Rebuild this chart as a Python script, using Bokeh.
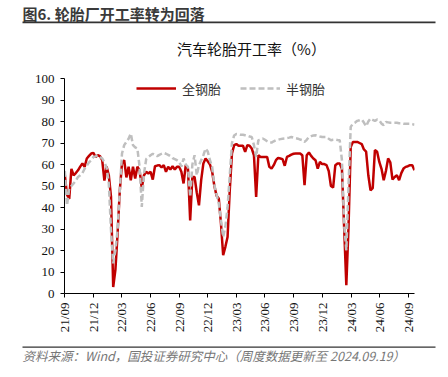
from datetime import datetime, timedelta
from math import pi
from bokeh.plotting import figure
from bokeh.layouts import column
from bokeh.models import (Range1d, MonthsTicker, DatetimeTickFormatter, Label,
                          BoxAnnotation, Legend, LegendItem, FixedTicker)
from bokeh.embed import file_html
from bokeh.resources import INLINE

# ---- data (weekly, weeks counted from 2021-09-02) ----
START = datetime(2021, 9, 2)

weeks_all_steel = list(range(0, 160))
all_steel = [55, 46, 44, 58, 55, 56, 57.3, 59, 60.5, 58.9,
             62.8, 64, 65.1, 65.4, 63.5, 64.3, 63.9, 62, 52.5, 59,
             55, 45, 3, 11, 28, 48, 60.5, 62, 54, 59,
             52.7, 59, 53.5, 59, 57.3, 49, 55, 56.6, 55.8, 56.6,
             53, 59.2, 59.5, 59.7, 58.6, 59.7, 56.6, 58.9, 57.7, 59.2,
             57.7, 58.9, 58.9, 56.6, 51.2, 59.7, 58, 34, 54.2, 54.2,
             47, 41, 52.7, 60.5, 62.8, 61.5, 60, 56.6, 50, 45.5,
             44.2, 32.6, 17.8, 21.7, 26.3, 48, 65.1, 69, 69.5, 68.7,
             68.7, 68.7, 65.9, 69, 68.7, 67.4, 64.3, 44.9, 64.3, 63.5,
             63.5, 63.5, 63.5, 58.9, 58.1, 59.7, 62, 63.1, 62.8, 62.5,
             59.4, 63.5, 64, 64.6, 65, 65.1, 65.1, 65.1, 64.3, 50.4,
             64.3, 65.6, 64, 62.8, 62, 58.1, 61.2, 60.2, 60.2, 59.7,
             57, 50, 49.3, 59.7, 60.5, 60.5, 58, 31, 3.9, 31,
             68.2, 70.5, 70.5, 70.5, 70, 69.5, 67, 66, 55, 48,
             49, 66.7, 65.9, 61.2, 58, 52.7, 57, 62.8, 61, 53,
             54.2, 55, 52.7, 56, 58.1, 58.9, 59.2, 59.7, 59.7, 57.3]

weeks_semi_steel = list(range(0, 160))
semi_steel = [57, 41, 48.8, 50, 51.2, 52.5, 54.2, 55, 56, 58,
              59.5, 61, 62, 63.5, 63.8, 64.3, 63.5, 62.8, 61, 58.5,
              51.2, 29.4, 14, 20, 30, 48, 65.1, 69, 70.5, 72,
              74.4, 69, 68, 67.4, 58.9, 40.3, 55.8, 62.5, 63.5, 64.3,
              65, 64.5, 63.9, 64.5, 65, 65.4, 65, 64.5, 63.9, 63,
              62.5, 62, 61.2, 59, 62.8, 60, 58.9, 44.9, 60, 64.3,
              55, 59.7, 62, 64.3, 67.4, 66, 62, 58.9, 50.4, 46,
              41.9, 34.1, 26.3, 31, 40, 55, 70, 73.5, 74.2, 74,
              73.8, 73.8, 73.6, 73.4, 73, 72.8, 69, 63.5, 71.3, 71.5,
              72.1, 71.5, 70.8, 70.2, 70.2, 70.8, 71.3, 71.5, 71.8, 72,
              72.1, 72.3, 72.5, 72.8, 72.5, 72.2, 72, 71.6, 71.3, 70.5,
              71.5, 72.8, 73.2, 73.5, 73.6, 73.3, 73, 72.8, 72.8, 72.8,
              72, 71.3, 71.5, 71.6, 71.4, 71.3, 62, 32, 20.1, 50,
              77.5, 79, 79.5, 80.3, 80.6, 80.9, 79.5, 77.8, 80, 81.4,
              80.8, 80.3, 80.9, 80.6, 79, 78.3, 79.8, 79.6, 79.4, 79.4,
              79.4, 79.4, 79.2, 79.2, 79, 79, 79, 79, 78.8, 78.5]

series_names = ["全钢胎", "半钢胎"]
y_ticks = [0, 10, 20, 30, 40, 50, 60, 70, 80, 90, 100]
fig_title = "图6. 轮胎厂开工率转为回落"
chart_title = "汽车轮胎开工率（%）"
source_note = "资料来源：Wind，国投证券研究中心（周度数据更新至 2024.09.19）"

dates_all = [START + timedelta(weeks=w) for w in weeks_all_steel]
dates_semi = [START + timedelta(weeks=w) for w in weeks_semi_steel]

W = 448
HEAD_H, MAIN_H, FOOT_H = 64, 280, 33
CJK = "Noto Sans CJK SC"
serif = "Liberation Serif"


def blank(height, y0):
    f = figure(width=W, height=height, x_range=Range1d(0, W),
               y_range=Range1d(y0 + height, y0), output_backend="svg",
               toolbar_location=None, min_border=0,
               x_axis_location=None, y_axis_location=None)
    f.frame_align = False
    f.outline_line_color = None
    f.grid.visible = False
    f.border_fill_color = "white"
    f.background_fill_color = "white"
    return f


# ---- header ----
head = blank(HEAD_H, 0)
head.add_layout(Label(x=22, y=12.5, text=fig_title, text_font=CJK,
                      text_font_size="15px", text_font_style="bold",
                      text_color="#3a3a3a", text_baseline="middle"))
head.add_layout(BoxAnnotation(left=22, right=435, top=21, bottom=22.8,
                              fill_color="#333333", fill_alpha=1,
                              line_color=None))
head.add_layout(Label(x=251, y=48, text=chart_title, text_font=CJK,
                      text_font_size="15px", text_color="#111111",
                      text_align="center", text_baseline="middle"))

# ---- main chart ----
p = figure(width=W, height=MAIN_H, x_axis_type="datetime",
           x_range=Range1d(datetime(2021, 9, 1), datetime(2024, 9, 19)),
           y_range=Range1d(0, 100),
           output_backend="svg", toolbar_location=None,
           min_border_left=64, min_border_right=34,
           min_border_top=14, min_border_bottom=51)
p.frame_align = False
p.outline_line_color = None
p.xgrid.visible = False
p.ygrid.visible = False
p.background_fill_color = "white"
p.border_fill_color = "white"

r_all = p.line(dates_all, all_steel, line_color="#C00000", line_width=2.5)
r_semi = p.line(dates_semi, semi_steel, line_color="#BFBFBF", line_width=2.5,
                line_dash="6 3")

xa = p.xaxis[0]
xa.ticker = MonthsTicker(months=[2, 5, 8, 11])
xa.formatter = DatetimeTickFormatter(months="%y/%m", days="%y/%m",
                                     years="%y/%m")
xa.major_label_orientation = pi / 2
xa.major_label_text_font = serif
xa.major_label_text_font_size = "13px"
xa.major_label_text_color = "#111111"
xa.minor_tick_line_color = None
xa.major_tick_in = 0
xa.major_tick_out = 4
xa.axis_line_color = "black"
xa.major_tick_line_color = "black"
xa.major_label_standoff = 5

ya = p.yaxis[0]
ya.ticker = FixedTicker(ticks=y_ticks)
ya.major_label_text_font = serif
ya.major_label_text_font_size = "13px"
ya.major_label_text_color = "#111111"
ya.minor_tick_line_color = None
ya.major_tick_in = 0
ya.major_tick_out = 4
ya.axis_line_color = "black"
ya.major_tick_line_color = "black"
ya.major_label_standoff = 6

legend = Legend(items=[LegendItem(label=series_names[0], renderers=[r_all]),
                       LegendItem(label=series_names[1], renderers=[r_semi])],
                location=(72, 195), orientation="horizontal",
                border_line_color=None, background_fill_alpha=0,
                padding=0, margin=0, spacing=19,
                glyph_width=40, glyph_height=20, label_height=20,
                label_standoff=6, label_text_font=CJK,
                label_text_font_size="13px", label_text_color="#333333")
p.add_layout(legend)

# ---- footer ----
y0 = HEAD_H + MAIN_H
foot = blank(FOOT_H, y0)
foot.add_layout(BoxAnnotation(left=22, right=435, top=y0 + 2, bottom=y0 + 3.3,
                              fill_color="#333333", fill_alpha=1,
                              line_color=None))
foot.add_layout(Label(x=22, y=y0 + 10.5, text=source_note, text_font=CJK,
                      text_font_size="12.5px", text_font_style="italic",
                      text_color="#777777", text_baseline="middle"))

layout = column(head, p, foot, spacing=0)
open("out.html", "w").write(file_html(layout, INLINE))
